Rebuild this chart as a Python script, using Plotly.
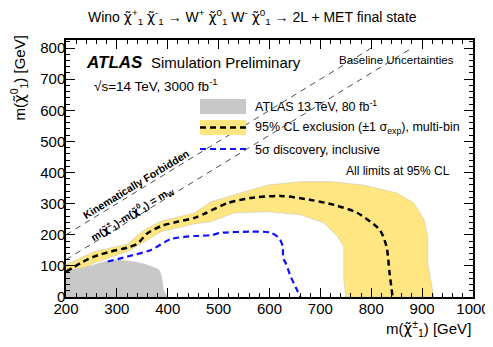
import plotly.graph_objects as go

# ---------------- data ----------------
grey_x = [200, 200, 229, 255, 275, 301, 334, 360, 383, 388, 392, 400]
grey_y = [0, 80, 93, 103, 113, 119, 113, 103, 87, 65, 22, 0]

band_up_x = [200, 255, 321, 353, 387, 452, 485, 530, 596, 662, 721, 785, 851, 884, 904, 911, 911, 917, 923]
band_up_y = [103, 146, 170, 215, 244, 270, 306, 328, 360, 371, 371, 360, 334, 302, 248, 194, 109, 55, 0]
band_lo_x = [750, 746, 746, 746, 734, 707, 662, 596, 530, 485, 452, 387, 360, 321, 255, 200]
band_lo_y = [0, 55, 119, 162, 194, 238, 264, 274, 270, 242, 235, 210, 183, 146, 109, 61]

excl_x = [200, 229, 255, 288, 321, 341, 360, 387, 419, 452, 475, 518, 563, 622, 681, 727, 773, 817, 830, 836, 842]
excl_y = [81, 109, 130, 146, 159, 172, 205, 228, 242, 254, 270, 302, 318, 325, 312, 296, 270, 215, 162, 77, 0]

disc_x = [282, 321, 367, 406, 452, 485, 504, 563, 602, 619, 626, 627, 633, 641, 652, 661]
disc_y = [114, 130, 151, 186, 196, 199, 206, 210, 207, 189, 162, 125, 105, 68, 30, 0]

kin_x = [200, 800]          # m(chi0) = m(chi+-)
kinw_x = [200, 880]         # m(chi0) = m(chi+-) - mW
mW = 80

x_ticks = [200, 300, 400, 500, 600, 700, 800, 900, 1000]
y_ticks = [0, 100, 200, 300, 400, 500, 600, 700, 800]

# ---------------- layout geometry ----------------
# the page body has an 8px margin, so the figure is drawn 8px smaller and
# everything is expressed in page pixels below
OFF = 8
W, H = 493 - OFF, 347 - OFF
PL, PR, PT, PB = 66, 473, 40, 297          # plot area in page pixels
L, T = PL - OFF, PT - OFF
R = W - (PR - OFF)
B = H - (PB - OFF)
PW, PH = PR - PL, PB - PT


def px(x):
    return (x - PL) / PW


def py(y):
    return (PB - y) / PH


FONT = "Liberation Sans, Arial, sans-serif"
CHI = '<span style="font-family:DejaVu Sans">\u03c7\u0303</span>'

fig = go.Figure()

# yellow band
fig.add_trace(go.Scatter(
    x=band_up_x + band_lo_x, y=band_up_y + band_lo_y,
    fill="toself", fillcolor="#ffe680", mode="lines",
    line=dict(color="rgba(190,190,190,0.6)", width=0.8),
    hoverinfo="skip", showlegend=False))

# grey 13 TeV region
fig.add_trace(go.Scatter(
    x=grey_x, y=grey_y, fill="toself", fillcolor="#c8c8c8", mode="lines",
    line=dict(color="#c8c8c8", width=0.5, shape="spline", smoothing=0.6),
    hoverinfo="skip", showlegend=False))

# kinematic lines
fig.add_trace(go.Scatter(
    x=kin_x, y=kin_x, mode="lines",
    line=dict(color="black", width=0.7, dash="6px,5px"),
    hoverinfo="skip", showlegend=False))
fig.add_trace(go.Scatter(
    x=kinw_x, y=[v - mW for v in kinw_x], mode="lines",
    line=dict(color="black", width=0.7, dash="6px,5px"),
    hoverinfo="skip", showlegend=False))

# exclusion
fig.add_trace(go.Scatter(
    x=excl_x, y=excl_y, mode="lines",
    line=dict(color="black", width=2.5, dash="6px,4px", shape="spline", smoothing=0.7),
    hoverinfo="skip", showlegend=False))

# discovery
fig.add_trace(go.Scatter(
    x=disc_x, y=disc_y, mode="lines",
    line=dict(color="#1010ff", width=2.2, dash="6px,4px", shape="spline", smoothing=0.7),
    hoverinfo="skip", showlegend=False))

axis_common = dict(
    showline=True, linecolor="black", linewidth=1.5, mirror="ticks",
    ticks="inside", ticklen=9, tickwidth=1, tickcolor="black",
    showgrid=False, zeroline=False, automargin=False,
    tickfont=dict(family=FONT, size=15, color="black"),
    minor=dict(ticks="inside", ticklen=4.5, tickwidth=1, tickcolor="black", dtick=20, showgrid=False),
)

fig.update_xaxes(range=[200, 1000], tickvals=x_ticks, ticktext=[str(v) for v in x_ticks],
                 ticklabelstandoff=-3, **axis_common)
fig.update_yaxes(range=[0, 826], tickvals=y_ticks, ticktext=[str(v) for v in y_ticks],
                 ticklabelstandoff=-4, **axis_common)

ann = []


def text(x, y, s, size, xanchor="left", yanchor="middle", angle=0, **kw):
    ann.append(dict(x=px(x), y=py(y), xref="paper", yref="paper", text=s, showarrow=False,
                    xanchor=xanchor, yanchor=yanchor, textangle=angle,
                    font=dict(family=FONT, size=size, color="black"), **kw))


# title
text(252, 17, f"Wino {CHI}<sup>+</sup><sub>1</sub> {CHI}<sup>-</sup><sub>1</sub> \u2192 W<sup>+</sup> "
     f"{CHI}<sup>0</sup><sub>1</sub> W<sup>-</sup> {CHI}<sup>0</sup><sub>1</sub> \u2192 2L + MET final state",
     14, xanchor="center")

# ATLAS label
text(84, 62, "<b><i>ATLAS</i></b>", 17)
text(149, 62, "Simulation Preliminary", 15)
text(92, 85, "\u221as=14 TeV, 3000 fb<sup>-1</sup>", 13.5)
text(456, 60, "Baseline Uncertainties", 11.5, xanchor="right")

# legend
shapes = [
    dict(type="rect", xref="paper", yref="paper", x0=px(200), x1=px(246), y0=py(114), y1=py(99),
         fillcolor="#c8c8c8", line=dict(width=0)),
    dict(type="rect", xref="paper", yref="paper", x0=px(200), x1=px(246), y0=py(135), y1=py(120),
         fillcolor="#ffe680", line=dict(width=0)),
    dict(type="line", xref="paper", yref="paper", x0=px(200), x1=px(246), y0=py(127.5), y1=py(127.5),
         line=dict(color="black", width=2.5, dash="6px,4px")),
    dict(type="line", xref="paper", yref="paper", x0=px(200), x1=px(246), y0=py(149), y1=py(149),
         line=dict(color="#1010ff", width=2.2, dash="6px,4px")),
]
text(253, 106, "ATLAS 13 TeV, 80 fb<sup>-1</sup>", 12.5)
text(253, 128, "95% CL exclusion (\u00b11 \u03c3<sub>exp</sub>), multi-bin", 12.5)
text(253, 150, "5\u03c3 discovery, inclusive", 12.5)
text(452, 171, "All limits at 95% CL", 12, xanchor="right")

# kinematic labels
text(136, 184, "<b>Kinematically Forbidden</b>", 10.5, xanchor="center", angle=-31.4)
text(132, 214, f"<b>m({CHI}<sup>\u00b1</sup><sub>1</sub>)-m({CHI}<sup>0</sup><sub>1</sub>) = m<sub>W</sub></b>",
     10.5, xanchor="center", angle=-31.4)

# axis titles
ann.append(dict(x=px(19), y=py(34), xref="paper", yref="paper", showarrow=False,
                text=f"m({CHI}<sup>0</sup><sub>1</sub>) [GeV]", textangle=-90,
                xanchor="center", yanchor="top", font=dict(family=FONT, size=15, color="black")))
ann.append(dict(x=px(473), y=py(328), xref="paper", yref="paper", showarrow=False,
                text=f"m({CHI}<sup>\u00b1</sup><sub>1</sub>) [GeV]",
                xanchor="right", yanchor="middle", font=dict(family=FONT, size=15, color="black")))

fig.update_layout(
    width=W, height=H, margin=dict(l=L, r=R, t=T, b=B),
    paper_bgcolor="white", plot_bgcolor="white",
    annotations=ann, shapes=shapes, showlegend=False,
)

fig.write_html("out.html")
